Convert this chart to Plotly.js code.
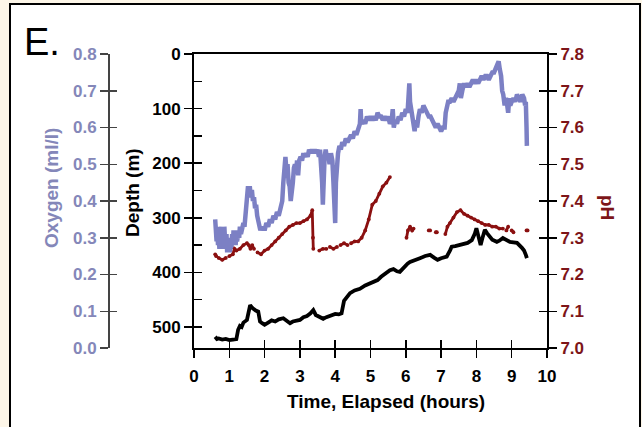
<!DOCTYPE html>
<html>
<head>
<meta charset="utf-8">
<script src="https://cdn.plot.ly/plotly-3.0.1.min.js"></script>
<style>html,body{margin:0;padding:0;background:#fdf6e8;}#chart{width:642px;height:427px;}</style>
</head>
<body>
<div id="chart"></div>
<script>
// Oxygen (ml/l) vs elapsed time (hours)
const timeO = [0.60,0.61,0.62,0.64,0.66,0.68,0.70,0.72,0.74,0.76,0.78,0.80,0.82,0.84,0.86,0.88,0.90,0.92,0.94,0.96,0.98,1.00,1.02,1.04,1.06,1.08,1.10,1.12,1.14,1.16,1.18,1.20,1.22,1.25,1.28,1.30,1.33,1.36,1.40,1.43,1.46,1.50,1.53,1.56,1.58,1.61,1.64,1.67,1.70,1.73,1.76,1.79,1.82,1.85,1.88,1.91,1.94,1.97,2.00,2.05,2.10,2.15,2.20,2.25,2.30,2.35,2.40,2.45,2.50,2.53,2.56,2.59,2.62,2.65,2.68,2.71,2.74,2.77,2.80,2.83,2.86,2.89,2.92,2.95,2.98,3.02,3.06,3.10,3.14,3.18,3.22,3.26,3.30,3.34,3.38,3.42,3.46,3.50,3.54,3.57,3.60,3.63,3.65,3.67,3.70,3.73,3.76,3.80,3.84,3.88,3.92,3.95,3.98,4.00,4.02,4.05,4.08,4.12,4.16,4.20,4.25,4.30,4.35,4.40,4.45,4.50,4.55,4.60,4.65,4.70,4.72,4.74,4.80,4.85,4.90,4.95,5.00,5.05,5.10,5.15,5.20,5.25,5.30,5.35,5.40,5.45,5.50,5.55,5.60,5.63,5.66,5.70,5.75,5.80,5.85,5.90,5.95,6.00,6.05,6.08,6.10,6.12,6.15,6.20,6.25,6.28,6.32,6.36,6.40,6.45,6.50,6.55,6.60,6.65,6.70,6.75,6.80,6.85,6.90,6.95,7.00,7.05,7.10,7.13,7.16,7.20,7.25,7.30,7.35,7.40,7.45,7.50,7.53,7.56,7.60,7.65,7.70,7.75,7.80,7.85,7.90,7.95,8.00,8.05,8.10,8.15,8.20,8.25,8.30,8.35,8.40,8.45,8.50,8.55,8.60,8.63,8.66,8.70,8.73,8.76,8.80,8.83,8.86,8.90,8.93,8.96,9.00,9.05,9.10,9.15,9.20,9.25,9.30,9.35,9.38,9.40,9.42,9.43];
const oxygen = [0.35,0.31,0.34,0.29,0.33,0.28,0.31,0.27,0.32,0.29,0.33,0.27,0.30,0.28,0.33,0.29,0.27,0.31,0.26,0.29,0.27,0.30,0.26,0.29,0.27,0.31,0.28,0.32,0.28,0.30,0.28,0.32,0.29,0.31,0.30,0.33,0.31,0.33,0.34,0.33,0.36,0.40,0.44,0.42,0.44,0.41,0.43,0.40,0.41,0.38,0.39,0.36,0.34,0.33,0.32,0.33,0.32,0.33,0.32,0.34,0.33,0.35,0.34,0.36,0.35,0.37,0.36,0.38,0.40,0.45,0.50,0.52,0.48,0.50,0.45,0.44,0.40,0.42,0.45,0.49,0.50,0.48,0.51,0.47,0.51,0.52,0.51,0.53,0.52,0.53,0.52,0.54,0.53,0.54,0.53,0.54,0.53,0.54,0.52,0.54,0.50,0.45,0.39,0.47,0.52,0.54,0.52,0.53,0.50,0.53,0.51,0.45,0.38,0.34,0.45,0.52,0.53,0.55,0.54,0.56,0.55,0.57,0.56,0.57,0.58,0.57,0.59,0.58,0.60,0.61,0.65,0.61,0.62,0.61,0.63,0.62,0.63,0.62,0.63,0.62,0.64,0.63,0.63,0.62,0.63,0.62,0.63,0.61,0.62,0.65,0.60,0.62,0.61,0.63,0.62,0.64,0.63,0.65,0.64,0.68,0.72,0.67,0.65,0.62,0.59,0.62,0.60,0.63,0.65,0.64,0.66,0.65,0.64,0.63,0.63,0.62,0.61,0.60,0.61,0.60,0.59,0.60,0.60,0.64,0.66,0.67,0.67,0.68,0.67,0.68,0.69,0.70,0.72,0.68,0.70,0.72,0.71,0.72,0.71,0.72,0.73,0.72,0.73,0.72,0.73,0.74,0.73,0.74,0.74,0.73,0.74,0.75,0.75,0.76,0.77,0.78,0.76,0.74,0.70,0.69,0.66,0.68,0.67,0.64,0.68,0.66,0.67,0.68,0.67,0.69,0.68,0.67,0.69,0.68,0.66,0.67,0.60,0.55];

// pH vs elapsed time (null = gap in record)
const timePH = [0.60,0.63,0.66,0.70,0.80,0.90,0.95,1.00,1.10,1.15,1.20,1.30,1.40,1.50,1.55,1.60,1.65,1.70,1.75,1.80,1.90,2.00,2.10,2.20,2.30,2.40,2.50,2.60,2.70,2.80,2.90,3.00,3.10,3.20,3.30,3.35,3.37,3.38,3.45,3.55,3.65,3.75,3.80,3.85,3.95,4.05,4.10,4.15,4.25,4.35,4.40,4.45,4.55,4.65,4.75,4.85,4.95,5.05,5.15,5.25,5.35,5.45,5.55,5.80,6.02,6.06,6.12,6.18,6.22,6.40,6.65,6.69,6.75,6.85,6.88,7.00,7.12,7.18,7.25,7.35,7.45,7.55,7.65,7.75,7.85,7.95,8.05,8.15,8.25,8.35,8.45,8.55,8.65,8.75,8.80,8.85,8.90,8.95,9.00,9.05,9.20,9.42,9.45];
const pH = [7.255,7.25,null,7.245,7.24,7.245,null,7.25,7.255,7.27,7.265,7.27,7.28,7.285,7.28,7.27,7.28,7.27,null,7.26,7.255,7.265,7.27,7.28,7.29,7.30,7.31,7.32,7.33,7.335,7.34,7.34,7.345,7.35,7.36,7.375,7.30,7.27,null,7.265,7.27,7.27,null,7.275,7.27,7.275,null,7.28,7.285,7.28,null,7.285,7.29,7.29,7.30,7.32,7.35,7.39,7.40,7.42,7.44,7.45,7.465,null,7.30,7.32,7.33,7.32,7.325,null,7.32,7.32,null,7.315,7.315,null,7.31,7.33,7.34,7.355,7.37,7.375,7.365,7.36,7.355,7.35,7.345,7.34,7.335,7.335,7.33,7.33,7.325,7.325,null,7.32,7.33,null,7.32,7.315,null,7.32,7.32];

// Depth (m) vs elapsed time
const timeD = [0.60,0.65,0.70,0.80,0.90,1.00,1.10,1.20,1.25,1.30,1.35,1.40,1.50,1.55,1.59,1.65,1.70,1.75,1.82,1.87,1.93,2.00,2.10,2.20,2.30,2.40,2.53,2.60,2.72,2.80,2.90,3.00,3.10,3.20,3.30,3.38,3.45,3.55,3.66,3.75,3.90,4.00,4.10,4.18,4.25,4.30,4.42,4.55,4.70,4.85,4.99,5.10,5.20,5.30,5.40,5.55,5.65,5.75,5.83,5.95,6.05,6.12,6.25,6.40,6.55,6.69,6.80,6.90,7.00,7.16,7.25,7.30,7.40,7.54,7.65,7.75,7.87,7.95,8.00,8.05,8.12,8.18,8.24,8.30,8.38,8.45,8.58,8.65,8.75,8.85,8.95,9.05,9.15,9.29,9.35,9.40,9.43];
const depth = [518,522,521,523,522,524,523,522,505,498,500,492,487,470,460,465,468,470,472,490,493,496,492,488,490,486,484,488,493,490,489,487,482,480,475,469,478,481,485,482,478,476,477,475,452,447,438,433,430,424,420,417,414,408,403,396,394,398,399,390,384,381,377,374,370,368,373,377,374,371,360,353,352,350,348,346,341,330,319,335,350,335,322,328,335,340,344,342,337,341,344,345,346,355,360,368,374];

// Tick values / labels
const xTickVals = [0,1,2,3,4,5,6,7,8,9,10];
const depthTickVals = [0,100,200,300,400,500];
const oxygenTickVals = [0,0.1,0.2,0.3,0.4,0.5,0.6,0.7,0.8];
const pHTickVals = [7.0,7.1,7.2,7.3,7.4,7.5,7.6,7.7,7.8];

const FONT = "'Liberation Sans', Arial, Helvetica, sans-serif";
const OXY_COLOR = '#7c80c4';
const OXY_TEXT = '#8487b9';
const PH_COLOR = '#8b1010';
const PH_TEXT = '#7d1518';

const W = 642, H = 427, ML = 10, MR = 10, MT = 54, MB = 79;
const px = v => (v - ML) / (W - ML - MR);
const py = v => (H - MB - v) / (H - MT - MB);

const traces = [
  {x: timeO, y: oxygen, yaxis: 'y2', mode: 'lines', line: {color: OXY_COLOR, width: 4.5}, name: 'Oxygen'},
  {x: timePH, y: pH, yaxis: 'y3', mode: 'lines+markers', connectgaps: false, line: {color: PH_COLOR, width: 2.8}, marker: {color: PH_COLOR, size: 3.8}, name: 'pH'},
  {x: timeD, y: depth, yaxis: 'y', mode: 'lines', line: {color: '#000000', width: 3.8}, name: 'Depth'},
  {x: [null], y: [null], xaxis: 'x2', yaxis: 'y4', showlegend: false, hoverinfo: 'skip'},
  {x: [null], y: [null], yaxis: 'y5', showlegend: false, hoverinfo: 'skip'},
  {x: [null], y: [null], yaxis: 'y6', showlegend: false, hoverinfo: 'skip'}
];

const xDomain = [px(194), px(547)];
const oxyPos = px(108);
const tickFont = (c) => ({family: FONT, size: 17, color: c, weight: 'bold'});

const layout = {
  width: W, height: H, autosize: false,
  margin: {l: ML, r: MR, t: MT, b: MB, pad: 0},
  paper_bgcolor: '#fdf6e8',
  plot_bgcolor: '#ffffff',
  showlegend: false,
  font: {family: FONT},
  xaxis: {
    domain: xDomain, range: [0, 10], tickvals: xTickVals, ticktext: xTickVals.map(String),
    ticks: 'outside', ticklen: 8, tickwidth: 1.5, tickcolor: '#000',
    showline: true, linewidth: 2, linecolor: '#000', mirror: true,
    showgrid: false, zeroline: false, tickfont: tickFont('#000'), ticklabelstandoff: 4,
    anchor: 'y'
  },
  xaxis2: {
    domain: xDomain, range: [0, 10], overlaying: 'x', anchor: 'y', side: 'bottom',
    tickvals: xTickVals, ticks: 'inside', ticklen: 8, tickwidth: 1.5, tickcolor: '#000',
    showticklabels: false, showline: false, showgrid: false, zeroline: false
  },
  yaxis: {
    domain: [0, 1], range: [538.5, 0], tickvals: depthTickVals, ticktext: depthTickVals.map(String),
    ticks: 'outside', ticklen: 8, tickwidth: 1.5, tickcolor: '#000',
    showline: true, linewidth: 2, linecolor: '#000',
    showgrid: false, zeroline: false, tickfont: tickFont('#000'), anchor: 'x', side: 'left'
  },
  yaxis4: {
    range: [538.5, 0], overlaying: 'y', anchor: 'x', side: 'left', tick0: 0, dtick: 50,
    ticks: 'inside', ticklen: 8, tickwidth: 1.5, tickcolor: '#000',
    showticklabels: false, showline: false, showgrid: false, zeroline: false
  },
  yaxis2: {
    range: [0, 0.8], overlaying: 'y', anchor: 'free', position: oxyPos, side: 'left',
    tickvals: oxygenTickVals, ticktext: oxygenTickVals.map(v => v.toFixed(1)),
    ticks: 'outside', ticklen: 8, tickwidth: 1.5, tickcolor: '#444',
    showline: true, linewidth: 1.5, linecolor: '#444',
    showgrid: false, zeroline: false, tickfont: tickFont(OXY_TEXT)
  },
  yaxis5: {
    range: [0, 0.8], overlaying: 'y', anchor: 'free', position: oxyPos, side: 'left',
    tickvals: oxygenTickVals.slice(0, 8), ticks: 'inside', ticklen: 8, tickwidth: 1.5, tickcolor: '#444',
    showticklabels: false, showline: false, showgrid: false, zeroline: false
  },
  yaxis3: {
    range: [7.0, 7.8], overlaying: 'y', anchor: 'x', side: 'right',
    tickvals: pHTickVals, ticktext: pHTickVals.map(v => v.toFixed(1)),
    ticks: 'outside', ticklen: 8, tickwidth: 1.5, tickcolor: '#000',
    showline: true, linewidth: 2, linecolor: '#000',
    showgrid: false, zeroline: false, tickfont: tickFont(PH_TEXT)
  },
  yaxis6: {
    range: [7.0, 7.8], overlaying: 'y', anchor: 'x', side: 'right',
    tickvals: pHTickVals.slice(1, 8), ticks: 'inside', ticklen: 8, tickwidth: 1.5, tickcolor: '#000',
    showticklabels: false, showline: false, showgrid: false, zeroline: false
  },
  shapes: [
    {type: 'rect', xref: 'paper', yref: 'paper', layer: 'below',
     x0: px(10), x1: px(640), y0: py(445), y1: py(4),
     fillcolor: '#ffffff', line: {color: '#000', width: 2}}
  ],
  annotations: [
    {text: 'E.', xref: 'paper', yref: 'paper', x: px(22), y: py(42), xanchor: 'left', yanchor: 'middle',
     showarrow: false, font: {family: FONT, size: 38, color: '#000'}},
    {text: 'Oxygen (ml/l)', xref: 'paper', yref: 'paper', x: px(52), y: py(188), textangle: -90,
     xanchor: 'center', yanchor: 'middle', showarrow: false,
     font: {family: FONT, size: 19, color: OXY_TEXT, weight: 'bold'}},
    {text: 'Depth (m)', xref: 'paper', yref: 'paper', x: px(132), y: py(193), textangle: -90,
     xanchor: 'center', yanchor: 'middle', showarrow: false,
     font: {family: FONT, size: 19, color: '#000', weight: 'bold'}},
    {text: 'pH', xref: 'paper', yref: 'paper', x: px(608), y: py(207), textangle: 90,
     xanchor: 'center', yanchor: 'middle', showarrow: false,
     font: {family: FONT, size: 19, color: PH_TEXT, weight: 'bold'}},
    {text: 'Time, Elapsed (hours)', xref: 'paper', yref: 'paper', x: px(386), y: py(401),
     xanchor: 'center', yanchor: 'middle', showarrow: false,
     font: {family: FONT, size: 19, color: '#000', weight: 'bold'}}
  ]
};

Plotly.newPlot('chart', traces, layout, {displayModeBar: false, staticPlot: true});
</script>
</body>
</html>
